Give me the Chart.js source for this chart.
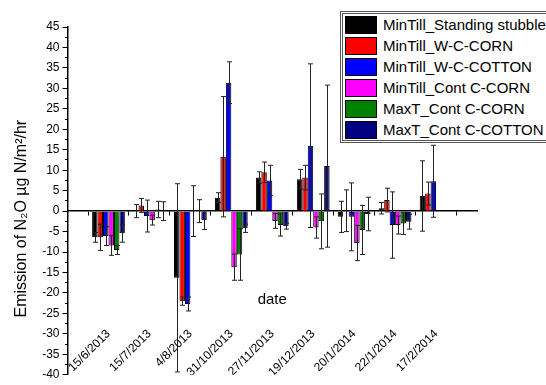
<!DOCTYPE html>
<html>
<head>
<meta charset="utf-8">
<script src="https://cdn.jsdelivr.net/npm/chart.js@4.4.1/dist/chart.umd.min.js"></script>
<style>
    html, body { margin: 0; padding: 0; background: #fff; overflow: hidden; }
    #wrap { position: relative; width: 546px; height: 385px; }
    #legend {
        position: absolute; left: 340px; top: 11px; width: 215px;
        box-sizing: border-box; border: 3px double #555; background: #fff;
        padding: 0 0 0 2px; font: 15px Arial, 'Liberation Sans', sans-serif; color: #000;
    }
    .legend-item { display: flex; align-items: center; height: 21px; white-space: nowrap; }
    .legend-color { width: 30px; height: 16px; border: 1px solid #000; margin-right: 6px; flex: none; }
</style>
</head>
<body>
<div id="wrap">
    <canvas id="emissionChart" width="546" height="385"></canvas>
    <div id="legend"></div>
</div>
<script>
// Sampling dates
const dates = ['15/6/2013', '15/7/2013', '4/8/2013', '31/10/2013', '27/11/2013',
               '19/12/2013', '20/1/2014', '22/1/2014', '17/2/2014'];

// Mean N2O emission (ug N/m2/hr) per treatment
const standingStubble  = [-6.4, 0,    -16.3,  3.3,  8.2,  7.8, -1.4,  0.7,  3.7];
const wcCorn           = [-6.4, 1.4,  -22.0, 13.3,  9.5,  8.2,  0.1,  2.7,  4.3];
const wcCotton         = [-6.1, -1.2, -22.7, 31.4,  7.5, 16.0, -1.4, -3.4,  7.3];
const contCorn         = [-8.4, -2.2,  0,   -13.7, -2.4, -4.0, -7.8, -3.4, null];
const maxTContCorn     = [-9.5, 0.4,   0,   -10.6, -3.4, -2.5, -4.6, -3.0, null];
const maxTContCotton   = [-5.4, 0,    -2.2,  -4.2, -3.7, 11.0, -0.7, -2.6, null];

// Error bar half-widths
const standingStubbleErr = [1.2, 1.6, 23.0,  1.2, 1.4,  2.4, 3.8, 1.4, 8.6];
const wcCornErr          = [3.2, 1.7,  1.0, 14.7, 2.5,  3.0, 5.1, 2.9, 2.8];
const wcCottonErr        = [2.3, 3.9,  1.7,  5.1, 3.7, 20.0, 8.3, 8.1, 8.8];
const contCornErr        = [2.4, 1.2,  6.2,  3.2, 1.8,  2.6, 4.3, 2.2, null];
const maxTContCornErr    = [1.1, 2.0,  2.8,  6.3, 2.7,  6.7, 6.0, 2.7, null];
const maxTContCottonErr  = [2.2, 2.3,  2.3,  1.0, 0.7, 19.8, 4.1, 1.8, null];

// Series names
const seriesNames = ['MinTill_Standing stubble', 'MinTill_W-C-CORN', 'MinTill_W-C-COTTON',
                     'MinTill_Cont C-CORN', 'MaxT_Cont C-CORN', 'MaxT_Cont C-COTTON'];

// Y axis range
const yMin = -40;
const yMax = 45;
const yStep = 5;

const colors = ['#000000', '#ff0000', '#0000ff', '#ff00ff', '#008000', '#000080'];
const seriesValues = [standingStubble, wcCorn, wcCotton, contCorn, maxTContCorn, maxTContCotton];
const seriesErrors = [standingStubbleErr, wcCornErr, wcCottonErr, contCornErr, maxTContCornErr, maxTContCottonErr];

// empty slot on each side so the groups sit one slot in from the axis ends
const padSlots = arr => [null, ...arr, null];
const xLabels = padSlots(dates).map(d => d || '');

Chart.defaults.font.family = "Arial, 'Liberation Sans', sans-serif";
Chart.defaults.color = '#000';

// Draw error bars on top of the bars
const errorBars = {
    id: 'errorBars',
    afterDatasetsDraw(chart) {
        const ctx = chart.ctx;
        const yScale = chart.scales.y;
        chart.data.datasets.forEach((ds, i) => {
            const meta = chart.getDatasetMeta(i);
            meta.data.forEach((bar, j) => {
                const v = ds.data[j];
                const e = ds.errors[j];
                if (v == null || e == null) return;
                const x = Math.round(bar.x) + 0.5;
                const top = yScale.getPixelForValue(v + e);
                const bot = yScale.getPixelForValue(v - e);
                ctx.save();
                ctx.strokeStyle = '#222';
                ctx.lineWidth = 1;
                ctx.beginPath();
                ctx.moveTo(x, top);
                ctx.lineTo(x, bot);
                ctx.moveTo(x - 2.5, top);
                ctx.lineTo(x + 2.5, top);
                ctx.moveTo(x - 2.5, bot);
                ctx.lineTo(x + 2.5, bot);
                ctx.stroke();
                ctx.restore();
            });
        });
    }
};

const datasets = seriesNames.map((name, i) => ({
    label: name,
    data: padSlots(seriesValues[i]),
    errors: padSlots(seriesErrors[i]),
    backgroundColor: colors[i],
    borderColor: '#000',
    borderWidth: 1,
    xAxisID: 'x',
    yAxisID: 'y'
}));

new Chart(document.getElementById('emissionChart'), {
    type: 'bar',
    data: { labels: xLabels, datasets: datasets },
    plugins: [errorBars],
    options: {
        responsive: false,
        animation: false,
        layout: { padding: { top: 27, right: 69, bottom: 0, left: 12 } },
        plugins: { legend: { display: false }, tooltip: { enabled: false } },
        datasets: { bar: { categoryPercentage: 0.8, barPercentage: 1.0 } },
        scales: {
            x: {
                type: 'category',
                offset: false,
                grid: { display: false },
                border: { display: false },
                // labels sit inside the plot, above the bottom edge
                ticks: { autoSkip: false, minRotation: 45, maxRotation: 45, padding: -56, font: { size: 12 } },
                title: { display: true, text: 'date', font: { size: 15 }, padding: { top: -33, bottom: 11 } }
            },
            x0: {
                type: 'category',
                labels: xLabels,
                position: { y: 0 },
                offset: false,
                grid: { offset: true, drawOnChartArea: false, tickLength: 4, color: '#000', tickColor: '#000' },
                border: { color: '#000', width: 1.5 },
                ticks: { display: false }
            },
            y: {
                min: yMin,
                max: yMax,
                ticks: { stepSize: yStep, padding: 3, font: { size: 12 } },
                grid: { drawOnChartArea: false, tickLength: 5, tickColor: '#000' },
                border: { color: '#000', width: 1.5 },
                // trailing spaces push the centred title a little lower, as in the original
                title: { display: true, text: 'Emission of N\u2082O \u00b5g N/m\u00b2/hr        ', font: { size: 16 }, padding: { top: 0, bottom: 8 } }
            },
            yMinor: {
                axis: 'y',
                position: { x: 0 },
                min: yMin,
                max: yMax,
                ticks: { display: false, stepSize: yStep / 2 },
                grid: { drawOnChartArea: false, tickLength: 3, tickColor: '#000' },
                border: { display: false }
            }
        }
    }
});

// HTML legend
function renderLegend() {
    const legend = document.getElementById('legend');
    legend.innerHTML = '';
    seriesNames.forEach((name, i) => {
        const item = document.createElement('div');
        item.className = 'legend-item';
        item.innerHTML = `<div class="legend-color" style="background-color: ${colors[i]};"></div><span>${name}</span>`;
        legend.appendChild(item);
    });
}
renderLegend();
</script>
</body>
</html>
